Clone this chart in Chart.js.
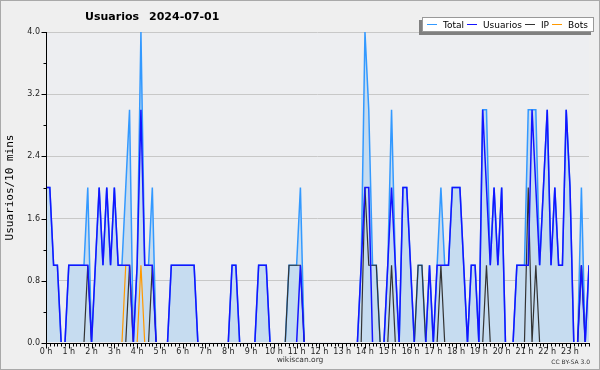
<!DOCTYPE html>
<html>
<head>
<meta charset="utf-8">
<script src="https://cdn.jsdelivr.net/npm/chart.js@4.4.1/dist/chart.umd.min.js"></script>
<style>
  html, body { margin: 0; padding: 0; background: #fff; }
  #wrap { position: relative; width: 600px; height: 370px; background: #efefef; overflow: hidden; }
  #frame { position: absolute; left: 0; top: 0; width: 598px; height: 368px; border: 1px solid #a9a9a9; pointer-events: none; }
  canvas { position: absolute; left: 0; top: 0; }
  #titulo { position: absolute; left: 85px; top: 10px; font: bold 11px 'DejaVu Sans'; line-height: 13px; color: #000; white-space: nowrap; }
  #titulo span + span { margin-left: 10px; }
  #leyenda { position: absolute; left: 422px; top: 17px; width: 169px; height: 13px; background: #fff; border: 1px solid #999;
             box-shadow: -3px 3px 0 #808080; display: flex; align-items: center; padding-left: 1px; box-sizing: content-box;
             font: 9px 'DejaVu Sans'; color: #000; white-space: nowrap; }
  #leyenda .sw { width: 10px; height: 0; border-top: 1px solid; margin: 0 6px 0 3px; }
  #sitio { position: absolute; left: 0; width: 600px; top: 355px; text-align: center; font: 7.5px 'DejaVu Sans'; line-height: 10px; color: #333; }
  #licencia { position: absolute; right: 10px; top: 358px; font: 6px 'DejaVu Sans'; line-height: 8px; color: #333; }
</style>
</head>
<body>
<div id="wrap">
  <canvas id="grafico" width="600" height="370"></canvas>
  <div id="titulo"><span>Usuarios</span><span>2024-07-01</span></div>
  <div id="leyenda"></div>
  <div id="sitio">wikiscan.org</div>
  <div id="licencia">CC BY-SA 3.0</div>
  <div id="frame"></div>
</div>
<script>
// Etiquetas de horas (eje X)
const hourLabels = ['0 h', '1 h', '2 h', '3 h', '4 h', '5 h', '6 h', '7 h', '8 h', '9 h', '10 h', '11 h',
                    '12 h', '13 h', '14 h', '15 h', '16 h', '17 h', '18 h', '19 h', '20 h', '21 h', '22 h', '23 h'];

// Franjas de 10 minutos
const slots = [];
for (let h = 0; h < 24; h++) {
    for (let m = 0; m < 60; m += 10) {
        slots.push(String(h).padStart(2, '0') + ':' + String(m).padStart(2, '0'));
    }
}

// Valores por franja (12 por fila = 2 horas)
const total = [
    2,2,1,1,0,0,1,1,1,1,1,2,
    0,1,2,1,2,1,2,1,1,2,3,0,
    1,4,1,1,2,0,0,0,0,1,1,1,
    1,1,1,1,0,0,0,0,0,0,0,0,
    0,1,1,0,0,0,0,0,1,1,1,0,
    0,0,0,0,1,1,1,2,0,0,0,0,
    0,0,0,0,0,0,0,0,0,0,0,1,
    4,3,1,1,0,0,1,3,1,0,2,2,
    1,0,1,1,0,1,0,1,2,1,1,2,
    2,2,1,0,1,1,0,3,3,1,2,1,
    2,0,0,0,1,1,1,3,3,3,1,2,
    3,1,2,1,1,3,2,0,0,2,0,1
];
const usuarios = [
    2,2,1,1,0,0,1,1,1,1,1,1,
    0,1,2,1,2,1,2,1,1,1,1,0,
    1,3,1,1,1,0,0,0,0,1,1,1,
    1,1,1,1,0,0,0,0,0,0,0,0,
    0,1,1,0,0,0,0,0,1,1,1,0,
    0,0,0,0,0,0,0,1,0,0,0,0,
    0,0,0,0,0,0,0,0,0,0,0,1,
    2,2,0,0,0,0,1,2,1,0,2,2,
    1,0,0,0,0,1,0,1,1,1,1,2,
    2,2,1,0,1,1,0,3,2,1,2,1,
    2,0,0,0,1,1,1,1,3,2,1,2,
    3,1,2,1,1,3,2,0,0,1,0,1
];
const ip = [
    0,0,0,0,0,0,0,0,0,0,0,1,
    0,0,0,0,0,0,0,0,0,0,1,0,
    0,0,0,0,1,0,0,0,0,0,0,0,
    0,0,0,0,0,0,0,0,0,0,0,0,
    0,0,0,0,0,0,0,0,0,0,0,0,
    0,0,0,0,1,1,1,1,0,0,0,0,
    0,0,0,0,0,0,0,0,0,0,0,0,
    2,1,1,1,0,0,0,1,0,0,0,0,
    0,0,1,1,0,0,0,0,1,0,0,0,
    0,0,0,0,0,0,0,0,1,0,0,0,
    0,0,0,0,0,0,0,2,0,1,0,0,
    0,0,0,0,0,0,0,0,0,1,0,0
];
const bots = [
    0,0,0,0,0,0,0,0,0,0,0,0,
    0,0,0,0,0,0,0,0,0,1,1,0,
    0,1,0,0,0,0,0,0,0,0,0,0,
    0,0,0,0,0,0,0,0,0,0,0,0,
    0,0,0,0,0,0,0,0,0,0,0,0,
    0,0,0,0,0,0,0,0,0,0,0,0,
    0,0,0,0,0,0,0,0,0,0,0,0,
    0,0,0,0,0,0,0,0,0,0,0,0,
    0,0,0,0,0,0,0,0,0,0,0,0,
    0,0,0,0,0,0,0,0,0,0,0,0,
    0,0,0,0,0,0,0,0,0,0,0,0,
    0,0,0,0,0,0,0,0,0,0,0,0
];

const seriesNames = ['Total', 'Usuarios', 'IP', 'Bots'];
const seriesColors = ['#3399ff', '#1414ff', '#333333', '#ff9900'];

// Leyenda en HTML
const leyenda = document.getElementById('leyenda');
seriesNames.forEach((name, i) => {
    const sw = document.createElement('span');
    sw.className = 'sw';
    sw.style.borderColor = seriesColors[i];
    const txt = document.createElement('span');
    txt.textContent = name;
    leyenda.appendChild(sw);
    leyenda.appendChild(txt);
});

// Fondo del área de trazado
const plotBg = {
    id: 'plotBg',
    beforeDraw(chart) {
        const { ctx, chartArea: a } = chart;
        ctx.save();
        ctx.fillStyle = '#edeef1';
        ctx.fillRect(a.left, a.top, a.right - a.left, a.bottom - a.top);
        ctx.restore();
    }
};

// Ejes y marcas (mayores y menores), encima de las líneas
const tickMarks = {
    id: 'tickMarks',
    afterDraw(chart) {
        const { ctx, scales: { x, y } } = chart;
        ctx.save();
        ctx.strokeStyle = '#000';
        ctx.lineWidth = 1;
        ctx.beginPath();
        const by = Math.round(y.bottom) + 0.5;
        const lx = Math.round(x.left) + 0.5;
        ctx.moveTo(lx, Math.round(y.top));
        ctx.lineTo(lx, by);
        ctx.lineTo(Math.round(x.right) + 1, by);
        for (let i = 0; i < slots.length; i++) {
            const px = Math.round(x.getPixelForValue(i)) + 0.5;
            const len = i % 6 === 0 ? 5 : 3;
            ctx.moveTo(px, by);
            ctx.lineTo(px, by + len);
        }
        y.ticks.forEach(t => {
            const py = Math.round(y.getPixelForValue(t.value)) + 0.5;
            const len = Math.round(t.value * 10) % 8 === 0 ? 5 : 3;
            ctx.moveTo(lx - len, py);
            ctx.lineTo(lx, py);
        });
        ctx.stroke();
        ctx.restore();
    }
};

const ctx = document.getElementById('grafico').getContext('2d');
// recorte: las líneas en cero quedan ocultas bajo el eje
const lineDefaults = { pointRadius: 0, tension: 0, borderWidth: 1.5, clip: { left: 0, top: 0, right: 0, bottom: -1 } };

new Chart(ctx, {
    type: 'line',
    data: {
        labels: slots,
        datasets: [
            { ...lineDefaults, label: seriesNames[0], data: total, borderColor: seriesColors[0],
              backgroundColor: 'rgb(198,220,240)', fill: 'origin', order: 4 },
            { ...lineDefaults, label: seriesNames[1], data: usuarios, borderColor: seriesColors[1], fill: false, order: 1 },
            { ...lineDefaults, label: seriesNames[2], data: ip, borderColor: seriesColors[2], borderWidth: 1.2, fill: false, order: 3 },
            { ...lineDefaults, label: seriesNames[3], data: bots, borderColor: seriesColors[3], borderWidth: 1.2, fill: false, order: 2 }
        ]
    },
    options: {
        responsive: false,
        animation: false,
        devicePixelRatio: 1,
        layout: { padding: { top: 32, right: 11, left: 0, bottom: 0 } },
        plugins: {
            legend: { display: false },
            title: { display: false },
            tooltip: { enabled: false }
        },
        scales: {
            x: {
                grid: { display: false, drawTicks: false },
                border: { display: false },
                ticks: {
                    autoSkip: false,
                    maxRotation: 0,
                    minRotation: 0,
                    padding: 4,
                    color: '#222',
                    font: { family: 'DejaVu Sans', size: 8 },
                    callback: (value, index) => index % 6 === 0 ? hourLabels[index / 6] : ''
                },
                afterFit: (scale) => { scale.height = 27; }
            },
            y: {
                min: 0,
                max: 4,
                grid: {
                    drawTicks: false,
                    color: (c) => (c.tick && Math.round(c.tick.value * 10) % 8 === 0 && c.tick.value > 0) ? '#c8c8c8' : 'rgba(0,0,0,0)'
                },
                border: { display: false },
                ticks: {
                    stepSize: 0.4,
                    padding: 6,
                    color: '#222',
                    font: { family: 'DejaVu Sans', size: 8 },
                    callback: (value) => Math.round(value * 10) % 8 === 0 ? value.toFixed(1) : ''
                },
                title: {
                    display: true,
                    text: 'Usuarios/10 mins',
                    color: '#000',
                    font: { family: 'DejaVu Sans Mono', size: 11 },
                    padding: { top: 4, bottom: 0 }
                },
                afterFit: (scale) => { scale.width = 46; }
            }
        }
    },
    plugins: [plotBg, tickMarks]
});
</script>
</body>
</html>
